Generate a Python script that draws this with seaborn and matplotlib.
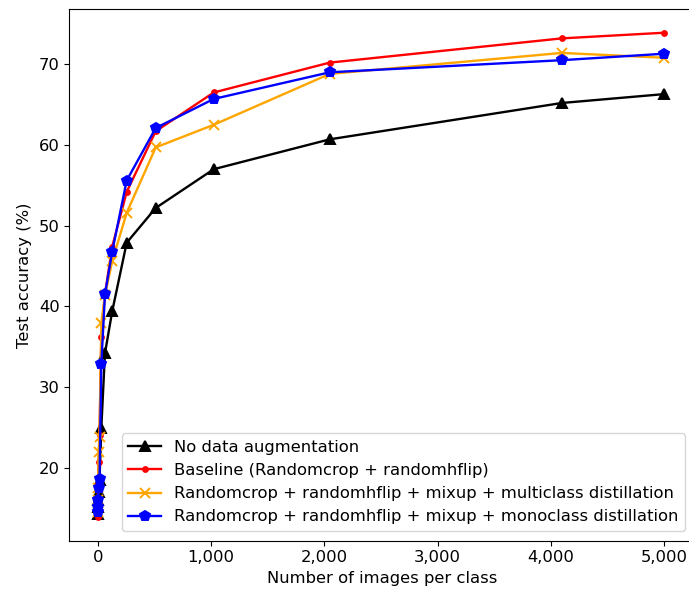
import matplotlib
matplotlib.use("Agg")
import matplotlib.pyplot as plt
from matplotlib.ticker import FuncFormatter
import seaborn as sns
import pandas as pd

images_per_class = [1, 2, 4, 8, 16, 32, 64, 128, 256, 512, 1024, 2048, 4096, 5000]

no_aug = [14.3, 15.2, 16.0, 17.0, 18.5, 25.0, 34.2, 39.4, 47.9, 52.2, 57.0, 60.7, 65.2, 66.3]
baseline = [13.9, 16.0, 18.0, 20.7, 24.1, 36.2, 41.5, 47.4, 54.2, 61.7, 66.5, 70.2, 73.2, 73.9]
multiclass = [14.5, 16.0, 17.5, 22.0, 23.9, 38.0, 41.4, 45.6, 51.6, 59.7, 62.5, 68.8, 71.4, 70.8]
monoclass = [14.6, 15.2, 16.0, 17.5, 18.7, 32.9, 41.5, 46.8, 55.6, 62.1, 65.7, 69.0, 70.5, 71.3]

labels = [
    "No data augmentation",
    "Baseline (Randomcrop + randomhflip)",
    "Randomcrop + randomhflip + mixup + multiclass distillation",
    "Randomcrop + randomhflip + mixup + monoclass distillation",
]
series = [no_aug, baseline, multiclass, monoclass]
colors = ["black", "red", "orange", "blue"]
markers = ["^", ".", "x", "p"]
msizes = [7, 7, 7, 7.5]

FS = 11.8
plt.rcParams["font.family"] = ["DejaVu Sans"]
plt.rcParams["font.size"] = FS

fig = plt.figure(figsize=(6.89, 5.92), dpi=100)
left_px, right_px, top_px, bot_px = 69.3, 696.0, 9.3, 540.7
ax = fig.add_axes([left_px / 689, 1 - bot_px / 592,
                   (right_px - left_px) / 689, (bot_px - top_px) / 592])

for lab, vals, c, m, ms in zip(labels, series, colors, markers, msizes):
    df = pd.DataFrame({"x": images_per_class, "y": vals})
    sns.lineplot(data=df, x="x", y="y", ax=ax, color=c, marker=m, markersize=ms,
                 markeredgecolor=c, markerfacecolor=c, markeredgewidth=1.4,
                 linewidth=1.7, label=lab)

px_per_unit = 0.1133
ax.set_xlim((left_px - 97.7) / px_per_unit, (right_px - 97.7) / px_per_unit)
ax.set_ylim(11.0, 76.8)
ax.set_xticks([0, 1000, 2000, 3000, 4000, 5000])
ax.set_yticks([20, 30, 40, 50, 60, 70])
ax.xaxis.set_major_formatter(FuncFormatter(lambda v, p: f"{int(v):,}"))
ax.tick_params(labelsize=FS)
ax.spines["right"].set_visible(False)
ax.set_xlabel("Number of images per class", fontsize=FS)
ax.set_ylabel("Test accuracy (%)", fontsize=FS, labelpad=5)
ax.legend(loc="lower right", fontsize=FS, borderaxespad=0,
          bbox_to_anchor=((685 - left_px) / (right_px - left_px), (bot_px - 531) / (bot_px - top_px)))

fig.savefig("out.png", dpi=100)
